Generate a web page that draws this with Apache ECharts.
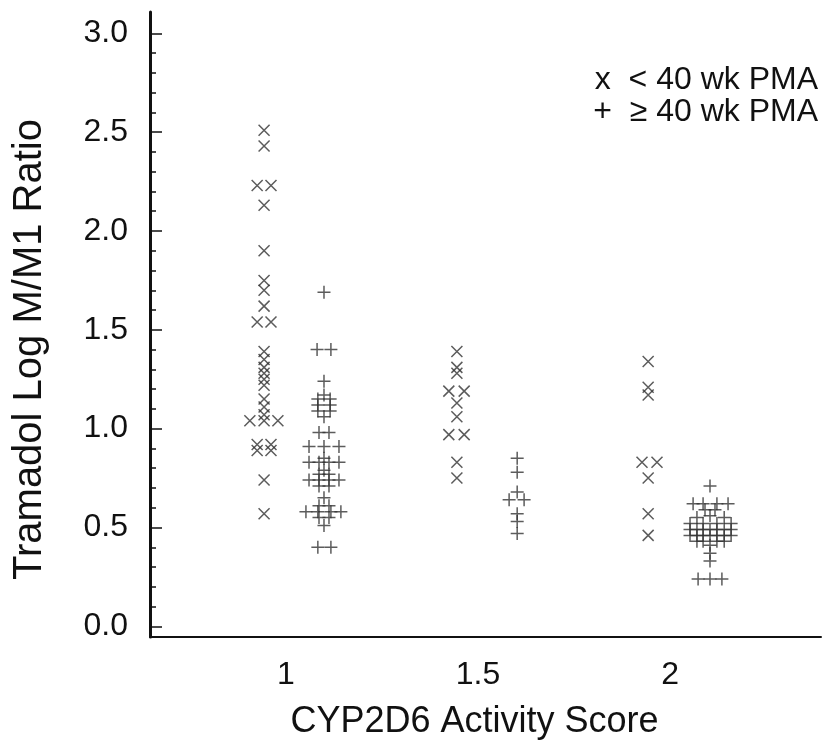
<!DOCTYPE html>
<html>
<head>
<meta charset="utf-8">
<title>Tramadol M/M1 ratio vs CYP2D6 activity score</title>
<script src="https://cdn.jsdelivr.net/npm/echarts@6/dist/echarts.min.js"></script>
<style>
  html, body { margin: 0; padding: 0; background: #fff; }
  #chart { width: 825px; height: 745px; }
</style>
</head>
<body>
<div id="chart"></div>
<script>
// ------------------------------------------------------------------
// Data (x = activity score incl. the small horizontal spread, y = log M/M1)
// ------------------------------------------------------------------
var xTickValues = [1, 1.5, 2];
var yMajorTicks = [0, 0.5, 1, 1.5, 2, 2.5, 3];
var yMinorTicks = [0, 0.1, 0.2, 0.3, 0.4, 0.5, 0.6, 0.7, 0.8, 0.9, 1, 1.1, 1.2, 1.3, 1.4, 1.5,
                   1.6, 1.7, 1.8, 1.9, 2, 2.1, 2.2, 2.3, 2.4, 2.5, 2.6, 2.7, 2.8, 2.9, 3];

// < 40 wk PMA (x marks)
var under40AS1 = [
    [0.943, 2.51], [0.943, 2.43], [0.925, 2.23], [0.961, 2.23], [0.943, 2.13], [0.943, 1.90],
    [0.943, 1.75], [0.943, 1.70], [0.943, 1.62], [0.925, 1.54], [0.961, 1.54],
    [0.943, 1.39], [0.943, 1.35], [0.943, 1.31], [0.943, 1.28], [0.943, 1.25], [0.943, 1.22],
    [0.943, 1.15], [0.943, 1.11], [0.943, 1.07],
    [0.906, 1.04], [0.943, 1.04], [0.979, 1.04],
    [0.925, 0.92], [0.961, 0.92], [0.925, 0.89], [0.961, 0.89],
    [0.943, 0.74], [0.943, 0.57]
];
var under40AS15 = [
    [1.445, 1.39], [1.445, 1.31], [1.445, 1.28], [1.424, 1.19], [1.464, 1.19], [1.445, 1.13],
    [1.445, 1.06], [1.424, 0.97], [1.464, 0.97], [1.445, 0.83], [1.445, 0.75]
];
var under40AS2 = [
    [1.943, 1.34], [1.943, 1.21], [1.943, 1.17], [1.927, 0.83], [1.966, 0.83],
    [1.943, 0.75], [1.943, 0.57], [1.943, 0.46]
];

// >= 40 wk PMA (plus marks)
var over40AS1 = [
    [1.099, 1.69],
    [1.081, 1.40], [1.117, 1.40],
    [1.099, 1.24],
    [1.099, 1.17], [1.083, 1.15], [1.115, 1.15], [1.083, 1.12], [1.115, 1.12], [1.083, 1.09],
    [1.115, 1.09], [1.099, 1.06],
    [1.086, 0.98], [1.112, 0.98],
    [1.060, 0.91], [1.099, 0.91], [1.138, 0.91],
    [1.099, 0.85], [1.060, 0.83], [1.086, 0.83], [1.112, 0.83], [1.138, 0.83], [1.099, 0.79],
    [1.086, 0.77], [1.112, 0.77], [1.060, 0.74], [1.086, 0.74], [1.112, 0.74], [1.138, 0.74],
    [1.086, 0.71], [1.112, 0.71],
    [1.099, 0.65], [1.086, 0.61], [1.112, 0.61], [1.052, 0.58], [1.083, 0.58], [1.117, 0.58],
    [1.143, 0.58], [1.086, 0.55], [1.112, 0.55], [1.099, 0.51],
    [1.083, 0.40], [1.117, 0.40]
];
var over40AS15 = [
    [1.602, 0.85], [1.602, 0.78], [1.602, 0.68], [1.581, 0.64], [1.620, 0.64],
    [1.602, 0.57], [1.602, 0.53], [1.602, 0.47]
];
var over40AS2 = [
    [2.104, 0.71],
    [2.060, 0.62], [2.086, 0.62], [2.122, 0.62], [2.151, 0.62],
    [2.091, 0.59], [2.117, 0.59],
    [2.070, 0.55], [2.104, 0.56], [2.141, 0.55],
    [2.052, 0.52], [2.086, 0.52], [2.122, 0.52], [2.159, 0.52],
    [2.052, 0.49], [2.070, 0.49], [2.086, 0.49], [2.104, 0.49], [2.122, 0.49], [2.141, 0.49], [2.159, 0.49],
    [2.052, 0.46], [2.070, 0.46], [2.086, 0.46], [2.104, 0.46], [2.122, 0.46], [2.141, 0.46], [2.159, 0.46],
    [2.070, 0.43], [2.086, 0.43], [2.122, 0.43], [2.141, 0.43],
    [2.104, 0.41],
    [2.104, 0.37], [2.104, 0.33],
    [2.073, 0.24], [2.104, 0.24], [2.135, 0.24]
];

// ------------------------------------------------------------------
// Chart
// ------------------------------------------------------------------
var FONT = '"Liberation Sans", Arial, Helvetica, sans-serif';
var INK = '#111';
var MARK = '#333';
var Y_MIN = -0.054;
var Y_MAX = 3.108;

var xMarkPath = 'path://M0,0L10,10M10,0L0,10';
var plusMarkPath = 'path://M5,0L5,10M0,5L10,5';

var chart = echarts.init(document.getElementById('chart'), null, { renderer: 'canvas' });

var option = {
    animation: false,
    backgroundColor: '#fff',
    grid: { left: 150, right: 4, top: 12, bottom: 91, containLabel: false },
    xAxis: {
        type: 'value',
        min: 0.646,
        max: 2.393,
        name: 'CYP2D6 Activity Score',
        nameLocation: 'middle',
        nameGap: 67,
        nameTextStyle: { fontFamily: FONT, fontSize: 36, color: INK, padding: [0, 22, 0, 0] },
        axisLine: { show: true, onZero: false, lineStyle: { color: INK, width: 2 } },
        axisTick: { show: false },
        splitLine: { show: false },
        axisLabel: {
            customValues: xTickValues,
            formatter: function (v) { return String(v); },
            fontFamily: FONT, fontSize: 32, color: INK, margin: 22
        }
    },
    yAxis: [{
        type: 'value',
        min: Y_MIN,
        max: Y_MAX,
        name: 'Tramadol Log M/M1 Ratio',
        nameLocation: 'middle',
        nameGap: 100,
        nameTextStyle: { fontFamily: FONT, fontSize: 40, color: INK, padding: [0, 50, 0, 0] },
        axisLine: { show: true, onZero: false, lineStyle: { color: INK, width: 3 } },
        axisTick: {
            show: true, inside: true, length: 12,
            customValues: yMajorTicks,
            lineStyle: { color: INK, width: 1.5 }
        },
        splitLine: { show: false },
        axisLabel: {
            customValues: yMajorTicks,
            formatter: function (v) { return v.toFixed(1); },
            fontFamily: FONT, fontSize: 32, color: INK, margin: 22
        }
    }, {
        // minor ticks only
        type: 'value',
        min: Y_MIN,
        max: Y_MAX,
        position: 'left',
        axisLine: { show: false },
        axisTick: {
            show: true, inside: true, length: 6,
            customValues: yMinorTicks,
            lineStyle: { color: INK, width: 1.5 }
        },
        axisLabel: { show: false },
        splitLine: { show: false }
    }],
    series: [{
        name: '< 40 wk PMA',
        type: 'scatter',
        symbol: xMarkPath,
        symbolSize: 11,
        itemStyle: { color: 'rgba(0,0,0,0)', borderColor: MARK, borderWidth: 1.5 },
        emphasis: { disabled: true },
        data: under40AS1.concat(under40AS15, under40AS2)
    }, {
        name: '≥ 40 wk PMA',
        type: 'scatter',
        symbol: plusMarkPath,
        symbolSize: 13,
        itemStyle: { color: 'rgba(0,0,0,0)', borderColor: MARK, borderWidth: 1.5 },
        emphasis: { disabled: true },
        data: over40AS1.concat(over40AS15, over40AS2)
    }],
    graphic: [{
        type: 'text',
        x: 818,
        y: 80,
        style: { text: 'x  < 40 wk PMA', font: '32px ' + FONT, fill: INK, align: 'right', verticalAlign: 'middle' }
    }, {
        type: 'text',
        x: 818,
        y: 112,
        style: { text: '+  ≥ 40 wk PMA', font: '32px ' + FONT, fill: INK, align: 'right', verticalAlign: 'middle' }
    }]
};

chart.setOption(option);
</script>
</body>
</html>
